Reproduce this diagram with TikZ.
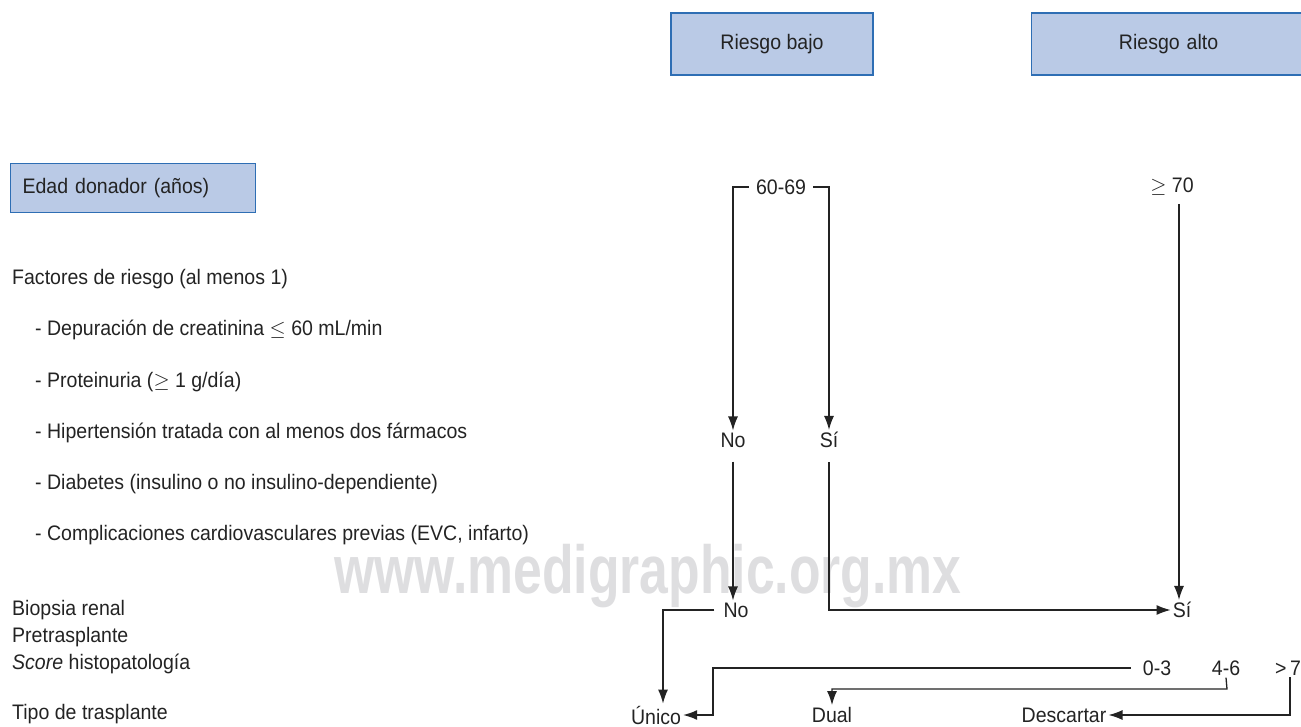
\documentclass[tikz,border=0pt]{standalone}
\usepackage{fontspec}
\setmainfont{Liberation Sans}[FakeStretch=0.93]
\newfontfamily\wmfont{Liberation Sans}[FakeStretch=0.76]
\usetikzlibrary{arrows.meta,calc}
\definecolor{boxfill}{RGB}{186,202,230}
\definecolor{boxline}{RGB}{46,110,180}
\definecolor{ink}{RGB}{35,35,35}
\definecolor{wm}{RGB}{222,222,224}
\begin{document}
\begin{tikzpicture}[x=1pt,y=-1pt,
  txt/.style={font=\fontsize{21}{25}\selectfont, text=ink, inner sep=2pt},
  lft/.style={txt, anchor=west},
  riskbox/.style={txt, draw=boxline, fill=boxfill, line width=1.2pt, minimum height=62pt},
  conn/.style={draw=ink, line width=1.3pt},
  arr/.style={conn, -{Latex[length=14pt,width=10pt]}},
]
\useasboundingbox (0,0) rectangle (1301,727);
% watermark
\node[font=\wmfont\bfseries\fontsize{68}{70}\selectfont, text=wm, inner sep=0pt] (wmark) at (648,576) {www.medigraphic.org.mx};

% header boxes
\node[riskbox, minimum width=202pt] (bajo) at (772,44) {Riesgo bajo};
\node[riskbox, anchor=west, minimum width=284pt, text width=262pt, align=center] (alto) at (1031,44) {\hspace*{-10pt}Riesgo alto};
\node[riskbox, anchor=north west, minimum height=49pt, text width=221pt, inner xsep=12pt, align=left] (edad) at (10,163) {Edad donador (años)};

% left column
\node[lft] (fact) at (10,279) {Factores de riesgo (al menos 1)};
\node[lft] (f1) at (33,330) {- Depuración de creatinina $\leq$ 60 mL/min};
\node[lft] (f2) at (33,382) {- Proteinuria ($\geq$ 1 g/día)};
\node[lft] (f3) at (33,433) {- Hipertensión tratada con al menos dos fármacos};
\node[lft] (f4) at (33,484) {- Diabetes (insulino o no insulino-dependiente)};
\node[lft] (f5) at (33,535) {- Complicaciones cardiovasculares previas (EVC, infarto)};
\node[lft] (bio) at (10,610) {Biopsia renal};
\node[lft] (pre) at (10,637) {Pretrasplante};
\node[lft] (sco) at (10,664) {\textit{Score} histopatología};
\node[lft] (tipo) at (10,714) {Tipo de trasplante};

% decision nodes
\node[txt, inner xsep=7pt] (age1) at (781,187) {60-69};
\node[txt] (age2) at (1172,187) {$\geq$ 70};
\node[txt] (no1) at (733,440) {No};
\node[txt] (si1) at (829,440) {Sí};
\node[txt, inner xsep=9pt] (no2) at (736,610) {No};
\node[txt] (si2) at (1182,610) {Sí};
\node[txt, inner xsep=12pt] (s03) at (1157,668) {0-3};
\node[txt] (s46) at (1226,668) {4-6};
\node[txt] (s7) at (1288,668) {>\,7};
\node[txt] (unico) at (656,715) {Único};
\node[txt] (dual) at (832,715) {Dual};
\node[txt] (desc) at (1064,715) {Descartar};

\coordinate (j1) at (713,715);
\coordinate (j2) at (1227,689);

% connectors
\draw[arr] (age1.west) -| (no1.north);
\draw[arr] (age1.east) -| (si1.north);
\draw[arr, shorten <=6pt] ([xshift=7pt]age2.south) -- ([xshift=-3pt]si2.north);
\draw[arr, shorten <=12pt] (no1.south) -- ([xshift=-3pt]no2.north);
\draw[conn, shorten <=12pt] (si1.south) |- ([xshift=-14pt]si2.west);
\draw[arr] ([xshift=-14pt]si2.west) -- (si2.west);
\draw[arr] (no2.west) -| ([xshift=7pt]unico.north);
\draw[arr] (s03.west) -| (j1) -- (unico.east);
\draw[arr] (s46.south) -- (j2) -| (dual.north);
\draw[arr] ([xshift=2pt]s7.south) |- (desc.east);
\end{tikzpicture}
\end{document}
